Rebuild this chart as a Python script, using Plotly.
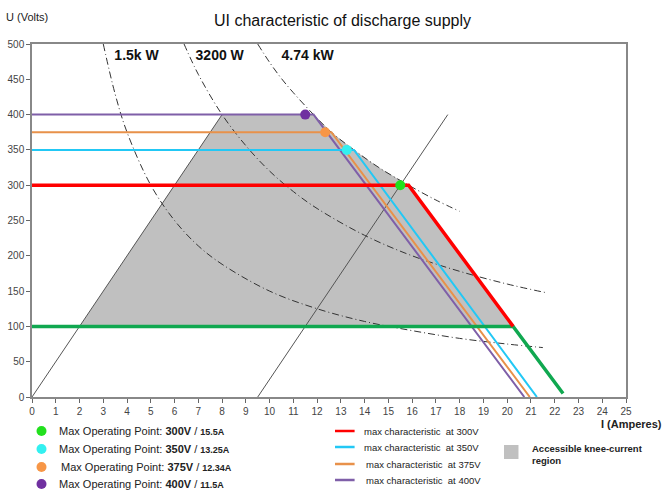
import plotly.graph_objects as go

# ---------------- data ----------------
# max characteristics: horizontal at the set voltage up to the knee, then falling
red_I = [0, 15.85, 20.25]
red_U = [300, 300, 100]
green_I = [0, 20.25, 22.35]
green_U = [100, 100, 5]
cyan_I = [0, 13.55, 21.25]
cyan_U = [350, 350, 0]
orange_I = [0, 12.6, 20.95]
orange_U = [375, 375, 0]
purple_I = [0, 11.85, 20.72]
purple_U = [400, 400, 0]

# max operating points
op_I = [15.5, 13.25, 12.34, 11.5]
op_U = [300, 350, 375, 400]

# accessible knee-current region (polygon)
region_I = [2.0, 8.0, 11.85, 12.6, 13.55, 14.6, 15.85, 20.25, 2.0]
region_U = [100, 400, 400, 375, 350, 325, 300, 100, 100]

# diagonal guide lines
diag1_I = [0, 8.0]
diag1_U = [0, 400]
diag2_I = [9.5, 17.5]
diag2_U = [0, 400]

# constant power curves
p1500_I = [3.0, 3.5, 4.0, 5.0, 6.0, 7.0, 8.0, 10.0, 12.0, 14.0, 16.0, 18.0, 20.0, 21.5]
p1500_U = [500, 429, 375, 300, 250, 214, 188, 150, 125, 107, 94, 83, 75, 70]
p3200_I = [6.4, 7.0, 8.0, 9.0, 10.0, 11.0, 12.0, 14.0, 16.0, 18.0, 20.0, 21.6]
p3200_U = [500, 457, 400, 356, 320, 291, 267, 229, 200, 178, 160, 148]
p4740_I = [9.5, 10.0, 10.5, 11.0, 11.85, 12.6, 13.55, 14.6, 15.85, 17.0, 18.0]
p4740_U = [500, 474, 451, 431, 400, 375, 350, 325, 300, 279, 263]

power_labels = ["1.5k W", "3200 W", "4.74 kW"]
power_label_I = [4.4, 7.9, 11.6]
power_label_U = [482, 482, 482]

x_ticks = list(range(0, 26))
y_ticks = list(range(0, 501, 50))

legend_points = [
    ("300V", "15.5A", "#22E01E"),
    ("350V", "13.25A", "#33F0F0"),
    ("375V", "12.34A", "#F79646"),
    ("400V", "11.5A", "#7030A0"),
]
legend_lines = [
    ("max characteristic  at 300V", "#FF0000"),
    ("max characteristic  at 350V", "#22C8F5"),
    ("max characteristic  at 375V", "#E8914A"),
    ("max characteristic  at 400V", "#7F5FA8"),
]

FONT = "Liberation Sans, Arial, sans-serif"

fig = go.Figure()

# gray region
fig.add_trace(go.Scatter(x=region_I, y=region_U, mode="lines", fill="toself",
                         fillcolor="#C0C0C0", line=dict(width=0), hoverinfo="skip"))

# diagonals
for xs, ys in [(diag1_I, diag1_U), (diag2_I, diag2_U)]:
    fig.add_trace(go.Scatter(x=xs, y=ys, mode="lines",
                             line=dict(color="#555555", width=1)))

# constant power curves
for xs, ys in [(p1500_I, p1500_U), (p3200_I, p3200_U), (p4740_I, p4740_U)]:
    fig.add_trace(go.Scatter(x=xs, y=ys, mode="lines", line_shape="spline",
                             line=dict(color="#333333", width=1, dash="7px,3px,1px,3px")))

# characteristics
fig.add_trace(go.Scatter(x=purple_I, y=purple_U, mode="lines",
                         line=dict(color="#7F5FA8", width=2)))
fig.add_trace(go.Scatter(x=orange_I, y=orange_U, mode="lines",
                         line=dict(color="#E8914A", width=2)))
fig.add_trace(go.Scatter(x=cyan_I, y=cyan_U, mode="lines",
                         line=dict(color="#22C8F5", width=2)))
fig.add_trace(go.Scatter(x=green_I, y=green_U, mode="lines",
                         line=dict(color="#10A850", width=3.5)))
fig.add_trace(go.Scatter(x=red_I, y=red_U, mode="lines",
                         line=dict(color="#FF0000", width=3.5)))

# operating points
fig.add_trace(go.Scatter(x=op_I, y=op_U, mode="markers",
                         marker=dict(size=10, color=[c for _, _, c in legend_points])))

# power labels
fig.add_trace(go.Scatter(x=power_label_I, y=power_label_U, mode="text", text=power_labels,
                         textfont=dict(family=FONT, size=14, color="#111111"),
                         texttemplate="<b>%{text}</b>"))

annotations = []
shapes = []

# title and axis labels
annotations.append(dict(text="UI characteristic of discharge supply", xref="paper", yref="paper",
                        x=0.522, y=1.0, yshift=24, showarrow=False, xanchor="center", yanchor="middle",
                        font=dict(family=FONT, size=16, color="#111111")))
annotations.append(dict(text="U (Volts)", xref="paper", yref="paper", x=0, xshift=-28, y=1.0, yshift=27,
                        showarrow=False, xanchor="left", yanchor="middle",
                        font=dict(family=FONT, size=11, color="#222222")))
annotations.append(dict(text="<b>I (Amperes)</b>", xref="paper", yref="paper", x=1.0, xshift=38, y=0, yshift=-27,
                        showarrow=False, xanchor="right", yanchor="middle",
                        font=dict(family=FONT, size=11, color="#222222")))

# left legend: operating points
rows_y = [-34, -52, -70, -87]
for i, (v, a, c) in enumerate(legend_points):
    ypx = rows_y[i]
    shapes.append(dict(type="circle", xref="paper", yref="paper", xsizemode="pixel", ysizemode="pixel",
                       xanchor=0.0160, yanchor=0, x0=-5, x1=5, y0=ypx - 5, y1=ypx + 5,
                       fillcolor=c, line=dict(width=0)))
    annotations.append(dict(
        text=f"Max Operating Point: <b>{v}</b> / <b><span style='font-size:9px'>{a}</span></b>",
        xref="paper", yref="paper", x=0.042 + (0.004 if i == 2 else 0), y=0, yshift=ypx,
        showarrow=False, xanchor="left", yanchor="middle",
        font=dict(family=FONT, size=11, color="#222222")))

# middle legend: characteristics
rows_y2 = [-34, -50, -67, -83]
for i, (t, c) in enumerate(legend_lines):
    ypx = rows_y2[i]
    shapes.append(dict(type="line", xref="paper", yref="paper", ysizemode="pixel", yanchor=0,
                       x0=0.5101, x1=0.5431, y0=ypx, y1=ypx, line=dict(color=c, width=2.5)))
    annotations.append(dict(text=t, xref="paper", yref="paper", x=0.5556 + (0.003 if i >= 2 else 0),
                            y=0, yshift=ypx, showarrow=False, xanchor="left", yanchor="middle",
                            font=dict(family=FONT, size=9.5, color="#222222")))

# right legend: region
shapes.append(dict(type="rect", xref="paper", yref="paper", ysizemode="pixel", yanchor=0,
                   x0=0.7946, x1=0.8190, y0=-62, y1=-48, fillcolor="#C0C0C0", line=dict(width=0)))
annotations.append(dict(text="<b>Accessible knee-current<br>region</b>", xref="paper", yref="paper",
                        x=0.8384, y=0, yshift=-57, showarrow=False, xanchor="left", yanchor="middle",
                        align="left", font=dict(family=FONT, size=9.5, color="#222222")))

fig.update_layout(
    width=672, height=491,
    margin=dict(l=32, r=46, t=44, b=94, autoexpand=False),
    paper_bgcolor="white", plot_bgcolor="white",
    showlegend=False,
    annotations=annotations, shapes=shapes,
    font=dict(family=FONT, size=10, color="#444444"),
)
fig.update_xaxes(range=[0, 25], tickvals=x_ticks, showgrid=False, zeroline=False, automargin=False,
                 showline=True, linecolor="#888888", linewidth=1.5, mirror=True,
                 ticks="outside", ticklen=4, tickcolor="#666666",
                 tickfont=dict(family=FONT, size=10, color="#444444"))
fig.update_yaxes(range=[0, 500], tickvals=y_ticks, showgrid=False, zeroline=False, automargin=False,
                 showline=True, linecolor="#888888", linewidth=1.5, mirror=True,
                 ticks="outside", ticklen=4, tickcolor="#666666",
                 tickfont=dict(family=FONT, size=10, color="#444444"))

fig.write_html("out.html", config={"displayModeBar": False},
               post_script="document.body.style.margin='0px';document.body.style.overflow='hidden';")
